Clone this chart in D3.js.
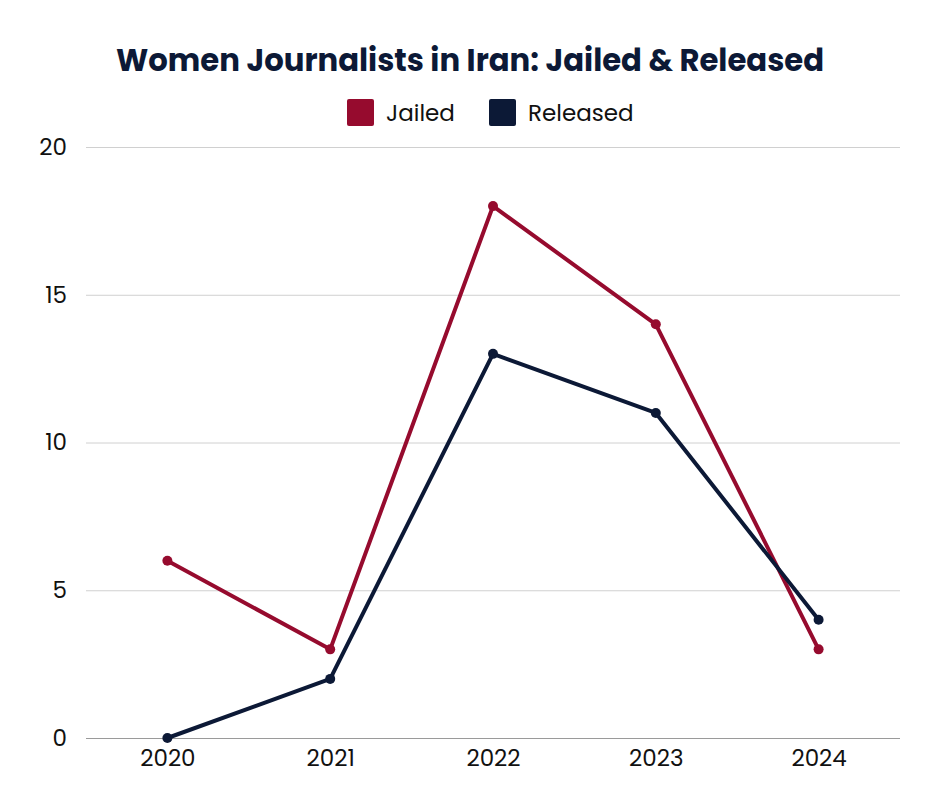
<!DOCTYPE html>
<html>
<head>
<meta charset="utf-8">
<script src="https://cdn.jsdelivr.net/npm/d3@7"></script>
<style>
  body { margin: 0; background: #fff; }
  svg, svg text { font-family: Poppins, Inter, "Noto Sans", sans-serif; }
</style>
</head>
<body>
<div id="chart"></div>
<script>
// Chart constants
const CHART_WIDTH = 940;
const CHART_HEIGHT = 788;
const MARGIN = { left: 86, right: 40, top: 147, bottom: 50 };

// Data
const years = ["2020", "2021", "2022", "2023", "2024"];
const jailed = [6, 3, 18, 14, 3];
const released = [0, 2, 13, 11, 4];
const yTicks = [0, 5, 10, 15, 20];
const seriesNames = ["Jailed", "Released"];
const seriesColors = ["#960b2e", "#0c1936"];

let svg = d3.select("#chart").append("svg")
  .attr("width", CHART_WIDTH)
  .attr("height", CHART_HEIGHT);

let xScale = d3.scalePoint()
  .domain(years)
  .range([MARGIN.left, CHART_WIDTH - MARGIN.right])
  .padding(0.5);

let yScale = d3.scaleLinear()
  .domain([0, 20])
  .range([CHART_HEIGHT - MARGIN.bottom, MARGIN.top]);

// Gridlines + y labels
let yAxis = d3.axisLeft(yScale)
  .tickValues(yTicks)
  .tickSize(-(CHART_WIDTH - MARGIN.right - MARGIN.left))
  .tickPadding(19);

let yG = svg.append("g")
  .attr("transform", `translate(${MARGIN.left}, 0)`)
  .call(yAxis)
  .attr("font-family", null)
  .attr("font-size", null);
yG.select(".domain").remove();
yG.selectAll(".tick line")
  .attr("stroke", d => d === 0 ? "#9a9a9a" : "#d0d0d0")
  .attr("stroke-width", 1);
yG.selectAll(".tick text")
  .attr("fill", "#111")
  .style("font-size", "23px");

// X labels
let xAxis = d3.axisBottom(xScale).tickSize(0).tickPadding(12);
let xG = svg.append("g")
  .attr("transform", `translate(0, ${CHART_HEIGHT - MARGIN.bottom})`)
  .call(xAxis)
  .attr("font-family", null)
  .attr("font-size", null);
xG.select(".domain").remove();
xG.selectAll(".tick text")
  .attr("fill", "#111")
  .attr("dy", "0.71em")
  .style("font-size", "23px");

// Lines
let series = [jailed, released];
let line = d3.line()
  .x((d, i) => xScale(years[i]))
  .y(d => yScale(d));

series.forEach((vals, s) => {
  svg.append("path")
    .datum(vals)
    .attr("fill", "none")
    .attr("stroke", seriesColors[s])
    .attr("stroke-width", 4)
    .attr("stroke-linejoin", "round")
    .attr("d", line);
  svg.selectAll(".pt" + s)
    .data(vals)
    .enter()
    .append("circle")
    .attr("cx", (d, i) => xScale(years[i]))
    .attr("cy", d => yScale(d))
    .attr("r", 5)
    .attr("fill", seriesColors[s]);
});

// Title
svg.append("text")
  .attr("x", CHART_WIDTH / 2)
  .attr("y", 71)
  .attr("text-anchor", "middle")
  .attr("fill", "#0c1936")
  .style("font-size", "30.7px")
  .style("font-weight", "bold")
  .text("Women Journalists in Iran: Jailed & Released");

// Legend
let legendX = [347, 489];
seriesNames.forEach((name, s) => {
  let g = svg.append("g").attr("transform", `translate(${legendX[s]}, 99)`);
  g.append("rect")
    .attr("width", 27)
    .attr("height", 27)
    .attr("rx", 2)
    .attr("fill", seriesColors[s]);
  g.append("text")
    .attr("x", 39)
    .attr("y", 22)
    .attr("fill", "#111")
    .style("font-size", "23px")
    .text(name);
});
</script>
</body>
</html>
